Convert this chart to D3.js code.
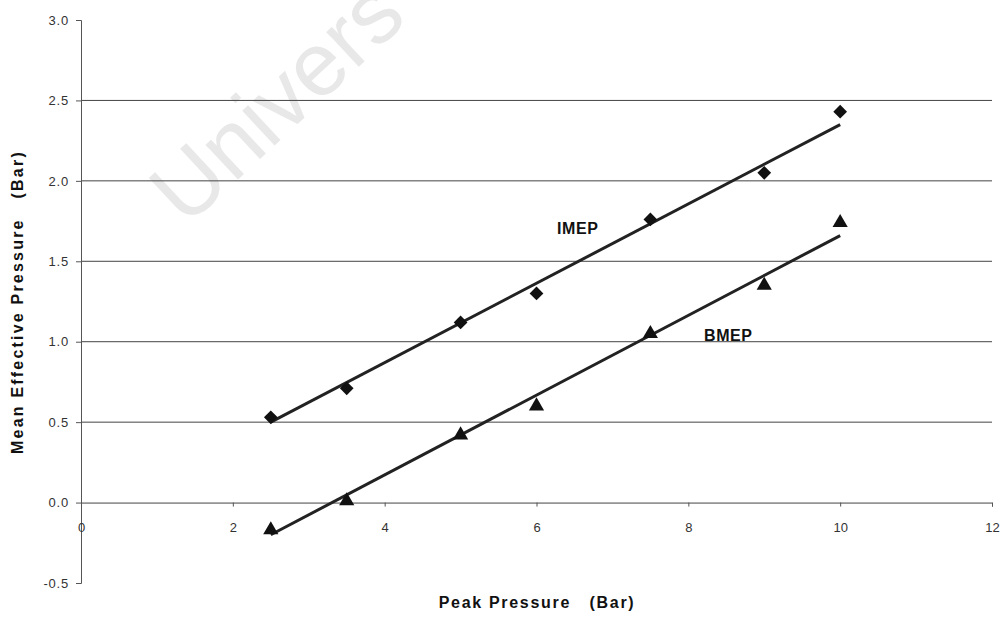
<!DOCTYPE html>
<html><head><meta charset="utf-8">
<script src="https://cdn.jsdelivr.net/npm/d3@7"></script>
<style>body{margin:0;background:#fff}svg{display:block}text{font-family:"Liberation Sans",Arial,sans-serif}</style>
</head><body><svg id="c" width="1006" height="626"></svg>
<script>
const peak = [2.5, 3.5, 5, 6, 7.5, 9, 10];
const imep = [0.53, 0.71, 1.12, 1.30, 1.76, 2.05, 2.43];
const bmep = [-0.17, 0.01, 0.42, 0.60, 1.05, 1.35, 1.74];
const trendX = [2.5, 10];
const imepTrend = [0.50, 2.35];
const bmepTrend = [-0.20, 1.66];
const xTicks = [0, 2, 4, 6, 8, 10, 12];
const yTicks = [-0.5, 0.0, 0.5, 1.0, 1.5, 2.0, 2.5, 3.0];
const gridVals = [0.5, 1.0, 1.5, 2.0, 2.5];

const svg = d3.select("#c");
const x = d3.scaleLinear().domain([0, 12]).range([81, 992]);
const y = d3.scaleLinear().domain([-0.5, 3.0]).range([583, 20]);

// watermark
svg.append("text").attr("transform", "translate(186,228) rotate(-43)")
  .attr("font-size", 90).attr("fill", "#e8e8e8").text("Univers");

// grid
svg.append("g").selectAll("line").data(gridVals).join("line")
  .attr("x1", x(0)).attr("x2", x(12)).attr("y1", d => y(d)).attr("y2", d => y(d))
  .attr("stroke", "#444").attr("stroke-width", 1);

// y axis
const ya = svg.append("g").attr("transform", `translate(${x(0)},0)`)
  .call(d3.axisLeft(y).tickValues(yTicks).tickSize(5).tickPadding(7));
ya.select(".domain").attr("stroke", "#555");
ya.selectAll(".tick line").attr("stroke", "#555");
ya.selectAll("text").attr("font-size", 13).attr("letter-spacing", "0.8px").attr("fill", "#333")
  .text(d => d3.format(".1f")(d).replace("−", "-"));

// x axis at y=0
const xa = svg.append("g").attr("transform", `translate(0,${y(0)})`)
  .call(d3.axisBottom(x).tickValues(xTicks).tickSize(4).tickPadding(16));
xa.select(".domain").attr("stroke", "#444");
xa.selectAll(".tick line").attr("stroke", "#555");
xa.selectAll("text").attr("font-size", 13).attr("fill", "#333");

// trend lines
const line = d3.line().x(d => x(d[0])).y(d => y(d[1]));
svg.append("path").attr("d", line(trendX.map((v, i) => [v, imepTrend[i]])))
  .attr("stroke", "#222").attr("stroke-width", 3).attr("fill", "none");
svg.append("path").attr("d", line(trendX.map((v, i) => [v, bmepTrend[i]])))
  .attr("stroke", "#222").attr("stroke-width", 3).attr("fill", "none");

// markers
svg.append("g").selectAll("path").data(peak).join("path")
  .attr("transform", (d, i) => `translate(${x(d)},${y(imep[i])})`)
  .attr("d", d3.symbol(d3.symbolDiamond2, 120)()).attr("fill", "#111");
svg.append("g").selectAll("path").data(peak).join("path")
  .attr("transform", (d, i) => `translate(${x(d)},${y(bmep[i])})`)
  .attr("d", d3.symbol(d3.symbolTriangle, 100)()).attr("fill", "#111");

// series labels
svg.append("text").attr("x", 557).attr("y", 234).attr("font-size", 16).attr("font-weight", "bold")
  .attr("letter-spacing", "0.6px").attr("fill", "#111").text("IMEP");
svg.append("text").attr("x", 704).attr("y", 341).attr("font-size", 16).attr("font-weight", "bold")
  .attr("letter-spacing", "0.6px").attr("fill", "#111").text("BMEP");

// axis titles
svg.append("text").attr("x", 537).attr("y", 608).attr("text-anchor", "middle")
  .attr("font-size", 16).attr("font-weight", "bold").attr("letter-spacing", "1.7px").attr("fill", "#111")
  .attr("xml:space", "preserve").text("Peak Pressure   (Bar)");
svg.append("text").attr("transform", "translate(23,302) rotate(-90)").attr("text-anchor", "middle")
  .attr("font-size", 16).attr("font-weight", "bold").attr("letter-spacing", "2.2px").attr("fill", "#111")
  .attr("xml:space", "preserve").text("Mean Effective Pressure   (Bar)");
</script></body></html>
